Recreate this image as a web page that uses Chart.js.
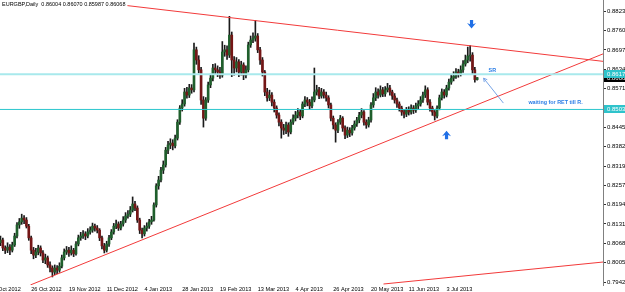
<!DOCTYPE html>
<html>
<head>
<meta charset="utf-8">
<title>EURGBP Daily</title>
<script src="https://cdn.jsdelivr.net/npm/chart.js@4.4.1/dist/chart.umd.min.js"></script>
<style>
  html, body { margin: 0; padding: 0; background: #fff; overflow: hidden; }
  #wrap { width: 625px; height: 292px; }
</style>
</head>
<body>
<div id="wrap"><canvas id="chart" width="625" height="292"></canvas></div>
<script>
// daily candles, index 0 = first bar on screen
const opens = [
  0.8070,0.8079,0.8053,0.8046,0.8056,0.8046,0.8063,0.8092,0.8128,0.8138,
  0.8150,0.8144,0.8124,0.8086,0.8046,0.8030,0.8040,0.8053,0.8037,0.8014,
  0.8021,0.7998,0.7988,0.7975,0.7988,0.7981,0.7994,0.8021,0.8040,0.8046,
  0.8037,0.8046,0.8034,0.8066,0.8086,0.8092,0.8099,0.8092,0.8105,0.8111,
  0.8124,0.8118,0.8111,0.8086,0.8060,0.8046,0.8066,0.8086,0.8105,0.8124,
  0.8131,0.8118,0.8131,0.8144,0.8157,0.8163,0.8176,0.8196,0.8183,0.8144,
  0.8111,0.8099,0.8118,0.8124,0.8138,0.8144,0.8193,0.8255,0.8274,0.8306,
  0.8323,0.8371,0.8388,0.8394,0.8385,0.8410,0.8462,0.8508,0.8521,0.8560,
  0.8550,0.8573,0.8567,0.8697,0.8664,0.8632,0.8534,0.8475,0.8534,0.8583,
  0.8605,0.8638,0.8632,0.8625,0.8615,0.8690,0.8697,0.8680,0.8745,0.8664,
  0.8638,0.8658,0.8625,0.8648,0.8615,0.8632,0.8713,0.8729,0.8735,0.8742,
  0.8697,0.8664,0.8625,0.8560,0.8541,0.8550,0.8527,0.8508,0.8485,0.8462,
  0.8443,0.8436,0.8453,0.8430,0.8462,0.8475,0.8485,0.8495,0.8482,0.8521,
  0.8534,0.8527,0.8515,0.8534,0.8560,0.8567,0.8547,0.8560,0.8550,0.8541,
  0.8518,0.8475,0.8453,0.8436,0.8462,0.8475,0.8443,0.8420,0.8436,0.8427,
  0.8443,0.8456,0.8469,0.8485,0.8495,0.8462,0.8453,0.8469,0.8518,0.8541,
  0.8560,0.8550,0.8567,0.8554,0.8567,0.8573,0.8560,0.8547,0.8534,0.8521,
  0.8508,0.8495,0.8488,0.8501,0.8495,0.8508,0.8501,0.8515,0.8521,0.8534,
  0.8550,0.8567,0.8527,0.8508,0.8495,0.8482,0.8508,0.8541,0.8560,0.8550,
  0.8573,0.8592,0.8605,0.8612,0.8625,0.8618,0.8632,0.8651,0.8664,0.8677,
  0.8680,0.8632,0.86004
];
const highs = [
  0.8092,0.8085,0.8060,0.8070,0.8064,0.8072,0.8101,0.8136,0.8149,0.8163,
  0.8158,0.8152,0.8130,0.8092,0.8055,0.8052,0.8062,0.8060,0.8045,0.8033,
  0.8027,0.8008,0.7995,0.7998,0.7996,0.8005,0.8030,0.8050,0.8058,0.8055,
  0.8060,0.8052,0.8074,0.8095,0.8104,0.8110,0.8106,0.8116,0.8122,0.8134,
  0.8131,0.8126,0.8116,0.8092,0.8068,0.8075,0.8094,0.8113,0.8133,0.8144,
  0.8138,0.8140,0.8155,0.8168,0.8175,0.8188,0.8219,0.8205,0.8190,0.8150,
  0.8118,0.8126,0.8135,0.8146,0.8156,0.8200,0.8262,0.8286,0.8315,0.8336,
  0.8380,0.8400,0.8408,0.8405,0.8420,0.8470,0.8516,0.8535,0.8572,0.8575,
  0.8585,0.8584,0.8719,0.8706,0.8678,0.8640,0.8545,0.8542,0.8592,0.8618,
  0.8650,0.8652,0.8645,0.8640,0.8724,0.8712,0.8710,0.8806,0.8755,0.8675,
  0.8672,0.8665,0.8660,0.8655,0.8645,0.8722,0.8742,0.8752,0.8793,0.8750,
  0.8705,0.8672,0.8630,0.8572,0.8566,0.8558,0.8535,0.8515,0.8492,0.8470,
  0.8455,0.8462,0.8460,0.8470,0.8486,0.8497,0.8506,0.8503,0.8528,0.8545,
  0.8542,0.8536,0.8544,0.8638,0.8582,0.8575,0.8572,0.8568,0.8560,0.8548,
  0.8524,0.8482,0.8460,0.8470,0.8484,0.8480,0.8450,0.8446,0.8444,0.8452,
  0.8466,0.8478,0.8494,0.8506,0.8500,0.8470,0.8478,0.8526,0.8555,0.8574,
  0.8570,0.8580,0.8575,0.8578,0.8588,0.8582,0.8566,0.8555,0.8540,0.8528,
  0.8514,0.8502,0.8510,0.8512,0.8518,0.8516,0.8524,0.8532,0.8545,0.8560,
  0.8580,0.8574,0.8535,0.8514,0.8500,0.8515,0.8550,0.8570,0.8568,0.8582,
  0.8602,0.8616,0.8626,0.8636,0.8634,0.8645,0.8662,0.8680,0.8706,0.8711,
  0.8688,0.8640,0.86070
];
const lows = [
  0.8061,0.8044,0.8035,0.8038,0.8031,0.8040,0.8058,0.8086,0.8117,0.8130,
  0.8132,0.8118,0.8078,0.8035,0.8018,0.8022,0.8031,0.8027,0.8005,0.8002,
  0.7990,0.7975,0.7959,0.7966,0.7970,0.7974,0.7988,0.8014,0.8032,0.8026,
  0.8030,0.8025,0.8030,0.8060,0.8078,0.8084,0.8080,0.8086,0.8098,0.8104,
  0.8108,0.8102,0.8077,0.8050,0.8037,0.8040,0.8058,0.8080,0.8098,0.8116,
  0.8110,0.8112,0.8124,0.8136,0.8150,0.8155,0.8170,0.8174,0.8136,0.8100,
  0.8086,0.8092,0.8108,0.8117,0.8130,0.8140,0.8186,0.8244,0.8268,0.8295,
  0.8316,0.8360,0.8376,0.8372,0.8378,0.8404,0.8455,0.8498,0.8514,0.8540,
  0.8542,0.8556,0.8560,0.8650,0.8622,0.8520,0.8446,0.8468,0.8526,0.8574,
  0.8596,0.8618,0.8610,0.8604,0.8608,0.8676,0.8666,0.8672,0.8610,0.8615,
  0.8625,0.8610,0.8615,0.8600,0.8606,0.8625,0.8705,0.8720,0.8725,0.8688,
  0.8650,0.8612,0.8548,0.8530,0.8532,0.8515,0.8495,0.8475,0.8450,0.8410,
  0.8422,0.8425,0.8416,0.8424,0.8455,0.8466,0.8476,0.8470,0.8476,0.8512,
  0.8515,0.8504,0.8508,0.8528,0.8550,0.8538,0.8540,0.8540,0.8530,0.8508,
  0.8466,0.8440,0.8397,0.8428,0.8455,0.8432,0.8408,0.8412,0.8415,0.8420,
  0.8436,0.8448,0.8460,0.8476,0.8452,0.8442,0.8446,0.8462,0.8510,0.8532,
  0.8540,0.8544,0.8545,0.8546,0.8560,0.8550,0.8536,0.8524,0.8510,0.8498,
  0.8484,0.8476,0.8480,0.8485,0.8488,0.8490,0.8494,0.8506,0.8514,0.8526,
  0.8542,0.8518,0.8498,0.8484,0.8469,0.8476,0.8502,0.8534,0.8540,0.8544,
  0.8566,0.8585,0.8596,0.8604,0.8608,0.8612,0.8624,0.8644,0.8655,0.8660,
  0.8620,0.8592,0.85987
];
const closes = [
  0.8079,0.8053,0.8046,0.8056,0.8046,0.8063,0.8092,0.8128,0.8138,0.8150,
  0.8144,0.8124,0.8086,0.8046,0.8030,0.8040,0.8053,0.8037,0.8014,0.8021,
  0.7998,0.7988,0.7975,0.7988,0.7981,0.7994,0.8021,0.8040,0.8046,0.8037,
  0.8046,0.8034,0.8066,0.8086,0.8092,0.8099,0.8092,0.8105,0.8111,0.8124,
  0.8118,0.8111,0.8086,0.8060,0.8046,0.8066,0.8086,0.8105,0.8124,0.8131,
  0.8118,0.8131,0.8144,0.8157,0.8163,0.8176,0.8196,0.8183,0.8144,0.8111,
  0.8099,0.8118,0.8124,0.8138,0.8144,0.8193,0.8255,0.8274,0.8306,0.8323,
  0.8371,0.8388,0.8394,0.8385,0.8410,0.8462,0.8508,0.8521,0.8560,0.8550,
  0.8573,0.8567,0.8697,0.8664,0.8632,0.8534,0.8475,0.8534,0.8583,0.8605,
  0.8638,0.8632,0.8625,0.8615,0.8690,0.8697,0.8680,0.8745,0.8664,0.8638,
  0.8658,0.8625,0.8648,0.8615,0.8632,0.8713,0.8729,0.8735,0.8742,0.8697,
  0.8664,0.8625,0.8560,0.8541,0.8550,0.8527,0.8508,0.8485,0.8462,0.8443,
  0.8436,0.8453,0.8430,0.8462,0.8475,0.8485,0.8495,0.8482,0.8521,0.8534,
  0.8527,0.8515,0.8534,0.8560,0.8567,0.8547,0.8560,0.8550,0.8541,0.8518,
  0.8475,0.8453,0.8436,0.8462,0.8475,0.8443,0.8420,0.8436,0.8427,0.8443,
  0.8456,0.8469,0.8485,0.8495,0.8462,0.8453,0.8469,0.8518,0.8541,0.8560,
  0.8550,0.8567,0.8554,0.8567,0.8573,0.8560,0.8547,0.8534,0.8521,0.8508,
  0.8495,0.8488,0.8501,0.8495,0.8508,0.8501,0.8515,0.8521,0.8534,0.8550,
  0.8567,0.8527,0.8508,0.8495,0.8482,0.8508,0.8541,0.8560,0.8550,0.8573,
  0.8592,0.8605,0.8612,0.8625,0.8618,0.8632,0.8651,0.8664,0.8677,0.8680,
  0.8632,0.86004,0.86068
];

// axis labels (bar index -> date label, every 16 bars)
const dateTickIdx = [-3, 13, 29, 45, 61, 77, 93, 109, 125, 141, 157, 173, 189];
const dateTickLabels = ['4 Oct 2012', '26 Oct 2012', '19 Nov 2012', '11 Dec 2012', '4 Jan 2013', '28 Jan 2013',
  '19 Feb 2013', '13 Mar 2013', '4 Apr 2013', '26 Apr 2013', '20 May 2013', '11 Jun 2013', '3 Jul 2013'];
const priceTicks = [0.88230, 0.87600, 0.86970, 0.86340, 0.85710, 0.85080, 0.84450, 0.83820,
  0.83190, 0.82575, 0.81946, 0.81315, 0.80685, 0.80055, 0.79425];

// drawn objects: trendlines [barIndex, price], levels, notes
const resistanceLine = [[-1, 0.8890], [256, 0.8659]];
const supportTrend = [[12.7, 0.7933], [256, 0.8686]];
const lowerChannel = [[162.3, 0.7936], [256, 0.8008]];
const srLevel = 0.86175;
const supportLevel = 0.85033;
const symbolName = 'EURGBP,Daily';
const lastQuote = [0.86004, 0.86070, 0.85987, 0.86068];
const arrowsDown = [[199.6, 0.8779]];
const arrowsUp = [[189, 0.8421]];
const noteArrow = [[213.1, 0.8524], [204.7, 0.8605]];
const notes = [['SR', 206.8, 0.8629], ['waiting for RET till R.', 223.7, 0.8527]];

const bull = '#1f5f2c';
const bear = '#741616';
const noteBlue = '#2a7de6';

Chart.defaults.font.family = '"Liberation Sans", Arial, sans-serif';

const toPts = pts => pts.map(([x, y]) => ({ x, y }));
const level = v => [{ x: -1, y: v }, { x: 256, y: v }];
const lineSet = (data, color, width) => ({
  type: 'line', data, borderColor: color, borderWidth: width,
  pointRadius: 0, fill: false, tension: 0, order: 0
});

const overlay = {
  id: 'overlay',
  afterDraw(chart) {
    const { ctx, chartArea: a, scales: { x, y } } = chart;
    ctx.save();

    // header
    ctx.font = '5.5px "Liberation Sans"';
    ctx.textBaseline = 'middle';
    ctx.textAlign = 'left';
    const head = symbolName + '  ' + lastQuote.map(v => v.toFixed(5)).join(' ');
    ctx.fillStyle = '#fff';
    ctx.fillRect(0, 0, ctx.measureText(head).width + 4, 9);
    ctx.fillStyle = '#000';
    ctx.fillText(head, 2, 4.5);

    // price tags on the axis
    const tag = (v, bg, fg) => {
      const py = Math.round(y.getPixelForValue(v));
      ctx.fillStyle = bg;
      ctx.fillRect(a.right + 1, py - 4, 30, 8);
      ctx.fillStyle = fg;
      ctx.font = '6px "Liberation Sans"';
      ctx.fillText(v.toFixed(5), a.right + 4, py + 0.5);
    };
    tag(lastQuote[3], '#000', '#fff');
    tag(srLevel, '#2fc3cb', '#fff');
    tag(supportLevel, '#2fc3cb', '#fff');

    // clip annotations to plot
    ctx.beginPath();
    ctx.rect(a.left, a.top, a.right - a.left, a.bottom - a.top);
    ctx.clip();

    const fatArrow = (px, py, d) => {
      const pts = [[0, 4], [-4.5, -1.5], [-1.6, -0.3], [-1.6, -4.5], [1.6, -4.5], [1.6, -0.3], [4.5, -1.5]];
      ctx.beginPath();
      pts.forEach(([dx, dy], k) => {
        const X = px + dx, Y = py + dy * d;
        k ? ctx.lineTo(X, Y) : ctx.moveTo(X, Y);
      });
      ctx.closePath();
      ctx.fillStyle = '#1f6fe6';
      ctx.fill();
    };
    arrowsDown.forEach(([i, v]) => fatArrow(x.getPixelForValue(i), y.getPixelForValue(v), 1));
    arrowsUp.forEach(([i, v]) => fatArrow(x.getPixelForValue(i), y.getPixelForValue(v), -1));

    // thin pointer
    const [p0, p1] = noteArrow.map(([i, v]) => [x.getPixelForValue(i), y.getPixelForValue(v)]);
    ctx.strokeStyle = '#76a3e6';
    ctx.lineWidth = 1;
    ctx.beginPath();
    ctx.moveTo(p0[0], p0[1]);
    ctx.lineTo(p1[0], p1[1]);
    const ang = Math.atan2(p1[1] - p0[1], p1[0] - p0[0]);
    [0.5, -0.5].forEach(s => {
      ctx.moveTo(p1[0], p1[1]);
      ctx.lineTo(p1[0] - 4 * Math.cos(ang + s), p1[1] - 4 * Math.sin(ang + s));
    });
    ctx.stroke();

    // notes
    ctx.fillStyle = noteBlue;
    ctx.font = 'bold 5.4px "Liberation Sans"';
    notes.forEach(([t, i, v]) => ctx.fillText(t, x.getPixelForValue(i), y.getPixelForValue(v)));

    ctx.restore();
  }
};

new Chart(document.getElementById('chart'), {
  type: 'bar',
  data: {
    datasets: [
      {
        data: closes.map((c, i) => ({ x: i, y: [opens[i], c] })),
        barThickness: 2, minBarLength: 1, grouped: false, order: 1,
        backgroundColor: ctx => (closes[ctx.dataIndex] >= opens[ctx.dataIndex] ? bull : bear)
      },
      {
        data: closes.map((c, i) => ({ x: i, y: [lows[i], highs[i]] })),
        barThickness: 1, grouped: false, order: 2, backgroundColor: '#1a1a1a'
      },
      lineSet(level(srLevel), '#a8e9ec', 2),
      lineSet(level(supportLevel), '#2bc6ce', 1),
      lineSet(toPts(resistanceLine), '#f23a3a', 1),
      lineSet(toPts(supportTrend), '#f23a3a', 1),
      lineSet(toPts(lowerChannel), '#f23a3a', 1)
    ]
  },
  options: {
    responsive: false,
    animation: false,
    layout: { padding: 0 },
    plugins: { legend: { display: false }, tooltip: { enabled: false } },
    scales: {
      x: {
        type: 'linear', min: -0.2, max: 255.3, offset: false,
        grid: { display: false, drawTicks: false, tickLength: 0 },
        border: { display: false },
        afterBuildTicks: s => { s.ticks = dateTickIdx.map(v => ({ value: v })); },
        afterFit: s => { s.height = 7; s.paddingLeft = 0; s.paddingRight = 0; },
        ticks: {
          align: 'start', autoSkip: false, maxRotation: 0, padding: 1,
          color: '#000', font: { size: 5.6 },
          callback: (v, i) => dateTickLabels[i]
        }
      },
      y: {
        type: 'linear', position: 'right', min: 0.79328, max: 0.8859,
        grid: { display: true, drawOnChartArea: false, drawTicks: true, tickLength: 3, color: '#333' },
        border: { display: true, color: '#808080' },
        afterBuildTicks: s => { s.ticks = priceTicks.map(v => ({ value: v })); },
        afterFit: s => { s.width = 22; s.paddingTop = 0; s.paddingBottom = 0; },
        ticks: {
          padding: 1, color: '#000', font: { size: 6 },
          callback: v => v.toFixed(5)
        }
      }
    }
  },
  plugins: [overlay]
});
</script>
</body>
</html>
